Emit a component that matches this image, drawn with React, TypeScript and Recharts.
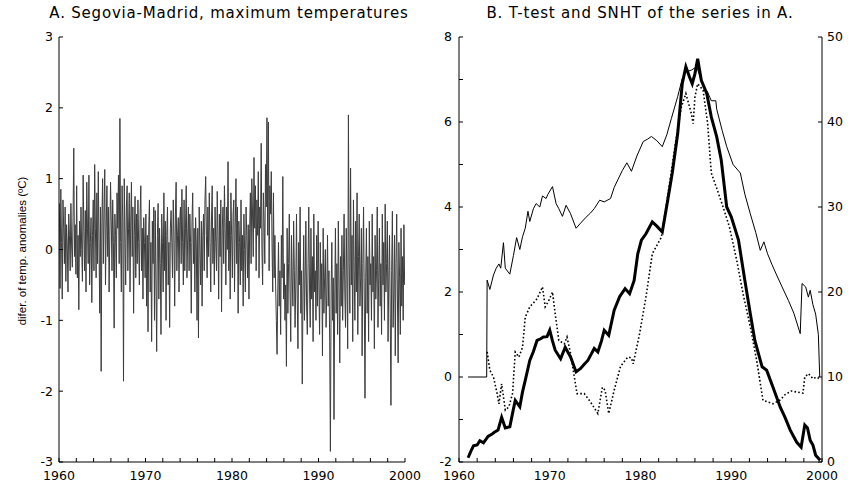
import { LineChart, Line, XAxis, YAxis } from "recharts";

// Panel A: monthly differences Segovia - Madrid, one row per year (Jan..Dec), 1960-1999
const anomalyStartYear = 1960;
const anomalyByYear: number[][] = [
  [0.65, -0.55, 0.85, 0.1, -0.7, 0.7, 0.3, -0.2, 0.6, -0.45, 0.35, 0.05],
  [-0.6, 0.5, 0.2, -0.3, 0.65, 0.05, -0.25, 0.45, 1.43, -0.1, 0.35, -0.35],
  [0.9, -0.4, 0.2, -0.85, 0.4, -0.1, 0.6, 0.0, -0.45, 1.05, 0.25, -0.3],
  [0.55, -0.6, 0.95, 0.3, -0.2, 1.05, -0.5, 0.1, 0.45, -0.75, 0.2, 0.7],
  [-0.3, 1.2, 0.3, -0.4, 0.8, -0.2, 1.1, 0.1, -0.9, 0.6, -1.72, 0.4],
  [1.0, -0.2, 0.5, 1.13, -0.5, 0.3, 0.9, -0.1, 0.6, -0.6, 0.2, 0.95],
  [0.4, -0.3, 0.7, 0.1, -1.11, 0.5, 0.2, -0.4, 0.8, 0.3, 1.05, -0.2],
  [1.85, 0.1, -0.6, 0.9, 0.4, -1.86, 1.0, 0.2, -0.5, 0.6, 0.9, -0.3],
  [0.3, 0.8, -0.6, 0.4, 0.95, -0.1, 0.6, -0.9, 0.2, 0.75, -0.4, 0.5],
  [-0.2, 0.7, 0.1, -0.5, 0.5, 0.9, -0.3, 0.3, -0.7, 0.45, 0.1, -0.4],
  [0.5, -0.8, 0.2, -1.16, 0.3, 0.7, -0.6, 0.1, -1.3, 0.4, -0.2, 0.6],
  [-1.0, 0.55, -0.4, -1.44, 0.2, 0.65, -0.7, 0.3, -0.2, -1.2, 0.5, 0.1],
  [-0.6, 0.8, -0.3, 0.4, -1.0, 0.2, 0.6, -0.5, 0.1, -1.1, 0.3, 0.55],
  [0.1, -0.4, 0.7, 0.2, -0.8, 0.5, 0.95, -0.3, 0.2, 0.45, -0.6, 0.4],
  [0.6, -0.2, 0.85, 0.1, -0.5, 0.7, -0.3, 0.3, 0.9, -0.4, 0.15, 0.6],
  [-0.3, 0.5, 0.1, -0.9, 0.4, 0.8, -0.2, 0.3, -0.6, 0.45, 0.05, -1.0],
  [0.3, -1.25, 0.6, 0.0, -0.5, 0.4, -0.8, 0.2, 0.5, -0.3, 0.7, 1.03],
  [0.2, -0.4, 0.6, -0.1, 0.8, 0.1, -0.6, 0.4, 0.9, -0.2, 0.3, -0.5],
  [0.6, 0.1, -0.3, 0.82, 0.2, -0.7, 0.5, -0.1, 0.7, -0.88, 0.3, 0.6],
  [-0.2, 0.9, 0.3, -0.5, 0.6, 0.0, 1.24, -0.3, 0.4, -0.7, 0.8, 0.2],
  [-0.4, 0.5, 0.7, -0.6, 0.3, 1.0, -0.2, 0.6, -0.9, 0.4, 0.1, -0.5],
  [0.7, -0.3, 0.2, -0.8, 0.5, 0.0, -0.6, 0.6, 0.2, -0.4, 0.35, -0.7],
  [0.3, 0.8, -0.2, 1.0, 0.5, -0.1, 1.3, 0.3, 0.9, -0.3, 0.7, 0.2],
  [1.1, -0.4, 0.6, 0.3, 1.5, 0.0, -0.5, 0.8, 0.4, -0.2, 1.2, 0.6],
  [1.86, 0.2, 1.8, -0.3, 0.9, 0.5, 1.1, 0.1, -0.6, 0.8, -0.4, 0.2],
  [-0.5, -1.0, -1.48, -0.6, 0.1, -0.8, -0.3, -1.2, 0.2, -0.4, 1.03, -0.7],
  [-0.2, -1.0, -0.5, -1.65, 0.3, -0.9, -0.2, 0.5, -0.6, -1.3, 0.2, -0.4],
  [-0.8, 0.4, -0.3, -1.1, -0.5, 0.5, -0.7, -1.4, 0.1, -0.5, 0.6, -0.9],
  [-0.3, -1.9, -0.6, 0.2, -1.0, -0.4, 0.4, -0.8, -1.2, -0.2, 0.6, -0.5],
  [-1.1, 0.3, -0.7, -0.1, -1.3, 0.5, -0.6, -0.3, -1.0, 0.2, -0.8, 0.4],
  [-0.5, -1.2, 0.1, -0.7, -0.2, -1.5, 0.3, -0.9, -0.4, 0.0, -1.1, -0.6],
  [0.2, -0.8, -0.3, -1.3, -2.85, -0.6, 0.1, -1.0, -0.4, -2.4, -0.7, 0.3],
  [-0.9, -0.2, -1.2, 0.4, -0.5, -1.6, -0.1, -0.8, 0.2, -1.0, -0.3, 0.5],
  [-0.6, -1.1, 0.3, -0.4, -1.4, 1.9, -0.2, -0.9, 1.15, -0.5, 0.2, -1.3],
  [0.7, -0.3, -1.0, 0.4, -0.6, 0.8, -1.2, -0.1, 0.5, -0.8, -0.4, 0.3],
  [-1.5, -0.2, 0.6, -0.7, -2.1, -0.4, 0.3, -0.9, -0.1, -1.3, 0.4, -0.5],
  [-0.2, -1.0, 0.5, -0.6, -0.1, -1.4, 0.2, -0.7, -0.3, 0.6, -1.1, -0.4],
  [0.3, -0.8, -0.2, -1.2, 0.5, -0.5, 0.1, -1.0, 0.64, -0.6, -0.2, 0.4],
  [-1.3, -0.4, 0.2, -0.9, -2.2, -0.3, 0.54, -1.1, -0.6, 0.2, -1.5, -0.2],
  [0.5, -0.7, -1.6, 0.1, -0.4, -1.2, 0.3, -0.8, -0.1, -1.0, 0.35, -0.5],
];

const yearTicks = [1960, 1962, 1964, 1966, 1968, 1970, 1972, 1974, 1976, 1978, 1980,
  1982, 1984, 1986, 1988, 1990, 1992, 1994, 1996, 1998, 2000];
const anomalyTicks = [-3, -2, -1, 0, 1, 2, 3];
const tTestTicks = [-2, -1, 0, 1, 2, 3, 4, 5, 6, 7, 8];
const snhtTicks = [0, 10, 20, 30, 40, 50];

// Panel B: SNHT (thin, right axis)
const snhtYears = [1961.0, 1963.05, 1963.1, 1963.4, 1963.8, 1964.1, 1964.4, 1964.6, 1964.9, 1965.1,
  1965.6, 1966.0, 1966.35, 1966.7, 1967.0, 1967.3, 1967.6, 1967.8, 1968.2, 1968.5, 1968.9, 1969.2,
  1969.6, 1969.8, 1970.3, 1970.7, 1971.0, 1971.4, 1971.8, 1972.3, 1972.9, 1973.4, 1974.0, 1974.5,
  1974.9, 1975.5, 1976.0, 1976.7, 1977.1, 1977.5, 1978.0, 1978.5, 1979.0, 1979.6, 1980.3, 1980.8,
  1981.2, 1981.8, 1982.4, 1982.9, 1983.4, 1984.1, 1984.6, 1985.0, 1985.6, 1986.2, 1986.9, 1987.4,
  1987.8, 1988.3, 1988.4, 1989.0, 1989.5, 1990.2, 1991.0, 1991.5, 1992.1, 1992.7, 1993.2, 1993.6,
  1994.0, 1994.5, 1995.0, 1995.6, 1996.3, 1996.9, 1997.6, 1997.8, 1998.2, 1998.5, 1998.7, 1999.0,
  1999.3, 1999.6, 1999.75];
const snhtValues = [10, 10, 21.4, 20.3, 22, 22.8, 23.3, 22.8, 25.8, 22.8,
  22.1, 24.3, 26.4, 25, 26.5, 27.5, 29.5, 28.3, 29.8, 30.4, 30, 31.3,
  31, 31.5, 32.4, 30.4, 29.8, 28.9, 30.2, 29.2, 27.5, 28.1, 28.8, 29.3,
  29.8, 30.8, 30.6, 31, 32.3, 33.2, 34.3, 35.2, 34.2, 36, 37.7, 38,
  38.3, 37.8, 37.1, 38.5, 40.4, 43, 45.1, 45.9, 46.1, 46.5, 44.2, 43.5,
  42.5, 42.5, 41.5, 39, 37.1, 35, 34, 31.5, 29.2, 27, 24.9, 25.9,
  24.5, 23.2, 22, 20.6, 19, 17.5, 15.1, 21, 20.6, 19.4, 20.2, 18.5,
  17.4, 15, 10];

// Panel B: T-test (thick, left axis)
const tThickYears = [1961.0, 1961.3, 1961.6, 1962.0, 1962.3, 1962.7, 1963.2, 1963.6, 1963.9, 1964.3,
  1964.7, 1965.1, 1965.6, 1966.0, 1966.2, 1966.7, 1967.0, 1967.3, 1967.8, 1968.2, 1968.6, 1969.0,
  1969.3, 1969.7, 1970.0, 1970.3, 1970.6, 1971.2, 1971.7, 1972.3, 1972.9, 1973.4, 1973.8, 1974.2,
  1974.6, 1974.9, 1975.3, 1975.7, 1976.0, 1976.5, 1977.1, 1977.7, 1978.3, 1978.8, 1979.3, 1979.7,
  1980.1, 1980.6, 1981.3, 1981.8, 1982.4, 1983.0, 1983.5, 1984.1, 1984.6, 1985.0, 1985.4, 1985.7,
  1986.0, 1986.3, 1986.7, 1987.3, 1987.8, 1988.4, 1988.9, 1989.5, 1990.0, 1990.8, 1991.5, 1992.1,
  1992.6, 1993.4, 1993.9, 1994.6, 1995.4, 1995.9, 1996.5, 1997.2, 1997.7, 1998.1, 1998.4, 1998.7,
  1999.0, 1999.3, 1999.8];
const tThickValues = [-1.9, -1.75, -1.62, -1.6, -1.5, -1.55, -1.4, -1.35, -1.3, -1.25,
  -0.95, -1.2, -1.17, -0.75, -0.55, -0.7, -0.35, -0.08, 0.39, 0.6, 0.86, 0.9,
  0.94, 0.95, 1.1, 0.85, 0.63, 0.43, 0.7, 0.47, 0.12, 0.2, 0.3, 0.39,
  0.55, 0.67, 0.59, 0.85, 1.1, 0.98, 1.57, 1.89, 2.08, 1.96, 2.27, 2.9,
  3.22, 3.37, 3.65, 3.55, 3.41, 4.16, 4.8, 5.73, 6.9, 7.3, 7.06, 6.9,
  7.14, 7.49, 6.98, 6.67, 6.12, 5.65, 5.1, 4.0, 3.77, 3.22, 2.27, 1.49,
  0.86, 0.24, 0.16, -0.24, -0.71, -0.94, -1.25, -1.53, -1.65, -1.13, -1.2, -1.49,
  -1.6, -1.84, -1.96];

// Panel B: T-test, second variant (dotted, left axis)
const tDottedYears = [1963.1, 1963.4, 1963.8, 1964.2, 1964.4, 1964.7, 1965.1, 1965.5, 1965.9, 1966.2,
  1966.6, 1967.0, 1967.3, 1967.8, 1968.6, 1969.2, 1969.5, 1969.9, 1970.3, 1970.6, 1971.0, 1971.6,
  1971.9, 1972.3, 1973.0, 1973.8, 1974.5, 1975.3, 1975.8, 1976.1, 1976.5, 1977.1, 1977.8, 1978.6,
  1979.0, 1979.2, 1979.9, 1980.6, 1981.3, 1982.3, 1983.2, 1983.9, 1984.5, 1985.0, 1985.6, 1985.8,
  1986.0, 1986.3, 1986.9, 1987.4, 1987.8, 1988.4, 1989.1, 1989.8, 1990.6, 1991.3, 1992.1, 1992.8,
  1993.5, 1994.6, 1995.4, 1995.9, 1996.6, 1997.9, 1998.1, 1998.5, 1999.0, 1999.4, 1999.8];
const tDottedValues = [0.59, 0.16, 0.0, -0.39, -0.63, -0.16, -0.78, -0.7, -0.39, 0.59,
  0.47, 0.7, 1.41, 1.65, 1.84, 2.12, 1.65, 1.8, 2.0, 1.49, 0.86, 0.78,
  0.94, 0.55, -0.39, -0.39, -0.59, -0.86, -0.24, -0.31, -0.86, -0.31, 0.25, 0.47,
  0.45, 0.31, 1.02, 1.88, 2.9, 3.29, 4.55, 5.57, 6.35, 6.67, 6.2, 5.96,
  6.59, 6.9, 6.75, 5.96, 4.8, 4.44, 4.0, 3.53, 2.75, 1.96, 1.18, 0.39,
  -0.55, -0.63, -0.54, -0.42, -0.33, -0.38, 0.0, 0.08, -0.04, 0.0, -0.05];

const anomalyData = anomalyByYear.flatMap((row, y) =>
  row.map((v, m) => ({ year: anomalyStartYear + y + (m + 0.5) / 12, v }))
);
const zip = (xs: number[], vs: number[]) => xs.map((year, i) => ({ year, v: vs[i] }));
const snhtData = zip(snhtYears, snhtValues);
const tThickData = zip(tThickYears, tThickValues);
const tDottedData = zip(tDottedYears, tDottedValues);

const FONT = "'DejaVu Sans', Verdana, sans-serif";
const tickStyle = { fill: "#000", fontSize: 12.5, fontFamily: FONT };
const axisLine = { stroke: "#000", strokeWidth: 1 };
const tickLine = { stroke: "#000", strokeWidth: 1 };
const decade = (v: number) => (v % 10 === 0 ? String(v) : "");
const titleStyle = { position: "absolute" as const, top: 4, textAlign: "center" as const, fontFamily: FONT, fontSize: 15, letterSpacing: 0.8, whiteSpace: "nowrap" as const };

export default function App() {
  return (
    <div style={{ position: "absolute", left: 0, top: 0, width: 850, height: 484, background: "#fff" }}>
      <div style={{ ...titleStyle, left: 0, width: 458 }}>
        A. Segovia-Madrid, maximum temperatures
      </div>
      <div style={{ ...titleStyle, left: 450, width: 380 }}>
        B. T-test and SNHT of the series in A.
      </div>
      <div
        style={{
          position: "absolute", left: 22, top: 251, transform: "translate(-50%, -50%) rotate(-90deg)",
          whiteSpace: "nowrap", fontFamily: "'Liberation Sans', Arial, sans-serif", fontSize: 11.5,
        }}
      >
        difer. of temp. anomalies (ºC)
      </div>

      <div style={{ position: "absolute", left: 0, top: 0 }}>
        <LineChart width={425} height={484} data={anomalyData} margin={{ top: 37, right: 20, bottom: 0, left: 0 }}>
          <XAxis dataKey="year" type="number" domain={[1960, 2000]} ticks={yearTicks} interval={0}
            tickFormatter={decade} tick={tickStyle} tickSize={-4} tickMargin={13} height={22}
            axisLine={axisLine} tickLine={tickLine} allowDataOverflow />
          <XAxis xAxisId="top" orientation="top" type="number" domain={[1960, 2000]} tick={false}
            tickLine={false} height={0} axisLine={axisLine} />
          <YAxis type="number" domain={[-3, 3]} ticks={anomalyTicks} interval={0} tick={tickStyle}
            tickSize={-4} tickMargin={10} width={59} axisLine={axisLine} tickLine={tickLine} />
          <YAxis yAxisId="r" orientation="right" domain={[-3, 3]} tick={false} tickLine={false}
            width={0} axisLine={axisLine} />
          <Line dataKey="v" type="linear" stroke="#3c3c3c" strokeWidth={1} dot={false} isAnimationActive={false} />
        </LineChart>
      </div>

      <div style={{ position: "absolute", left: 425, top: 0 }}>
        <LineChart width={425} height={484} margin={{ top: 37, right: 0, bottom: 0, left: 0 }}>
          <XAxis dataKey="year" type="number" domain={[1960, 2000]} ticks={yearTicks} interval={0}
            tickFormatter={decade} tick={tickStyle} tickSize={-4} tickMargin={13} height={22}
            axisLine={axisLine} tickLine={tickLine} allowDataOverflow />
          <XAxis xAxisId="top" orientation="top" type="number" domain={[1960, 2000]} tick={false}
            tickLine={false} height={0} axisLine={axisLine} />
          <YAxis type="number" domain={[-2, 8]} ticks={tTestTicks} interval={0} tick={tickStyle}
            tickFormatter={(v: number) => (v % 2 === 0 ? String(v) : "")}
            tickSize={-4} tickMargin={11} width={34} axisLine={axisLine} tickLine={tickLine} />
          <YAxis yAxisId="snht" orientation="right" type="number" domain={[0, 50]} ticks={snhtTicks}
            interval={0} tick={tickStyle} tickSize={-4} tickMargin={9} width={28} axisLine={axisLine}
            tickLine={tickLine} />
          <Line data={snhtData} dataKey="v" yAxisId="snht" type="linear" stroke="#000" strokeWidth={1}
            dot={false} isAnimationActive={false} />
          <Line data={tDottedData} dataKey="v" type="linear" stroke="#000" strokeWidth={1.6}
            strokeDasharray="1.6 2.2" dot={false} isAnimationActive={false} />
          <Line data={tThickData} dataKey="v" type="linear" stroke="#000" strokeWidth={3}
            dot={false} isAnimationActive={false} />
        </LineChart>
      </div>
    </div>
  );
}
